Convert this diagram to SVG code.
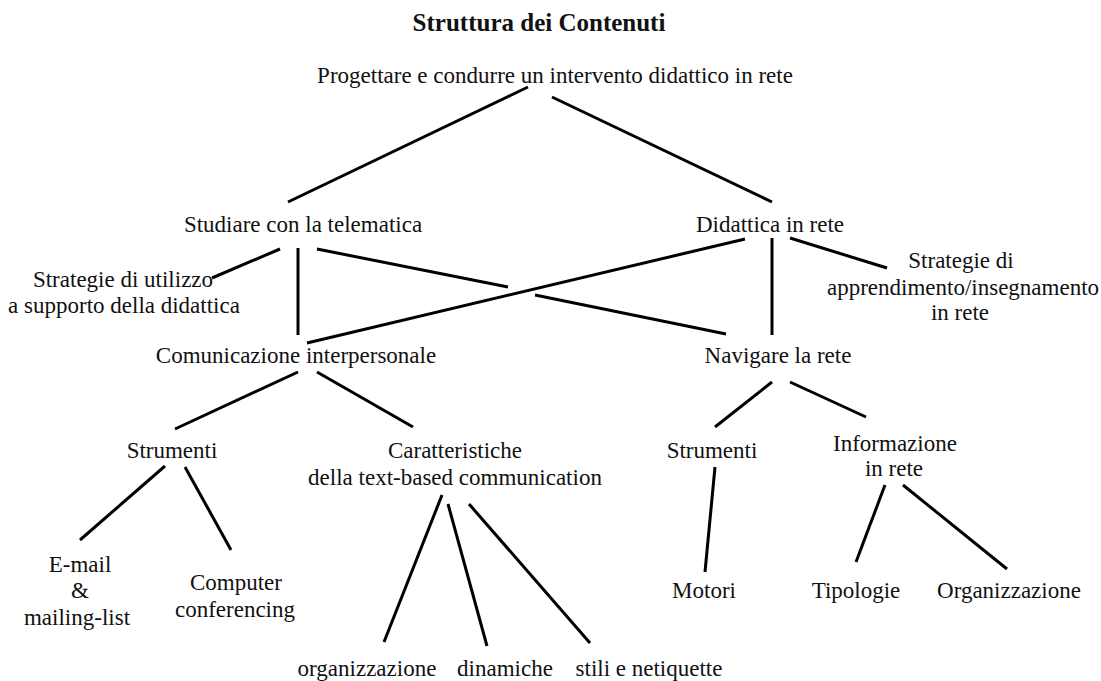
<svg xmlns="http://www.w3.org/2000/svg" width="1101" height="681" viewBox="0 0 1101 681">
<style>
text{font-family:"Liberation Serif","Times New Roman",serif;font-size:23px;fill:#111;text-anchor:middle}
.title{font-weight:bold;font-size:25px}
.c{stroke:#000;stroke-width:3;fill:none;stroke-linecap:butt}
</style>
<rect width="1101" height="681" fill="#fff"/>
<g id="title"><text class="title" x="539" y="31">Struttura dei Contenuti</text></g>
<g id="connectors">
<path class="c" d="M528 87 L288 202"/>
<path class="c" d="M552 97 L772 202"/>
<path class="c" d="M280 249 L212 278"/>
<path class="c" d="M298 248 L298 335"/>
<path class="c" d="M317 249 L508 287 M535 295 L726 334"/>
<path class="c" d="M745 239 L307 343"/>
<path class="c" d="M772 238 L772 335"/>
<path class="c" d="M790 238 L887 268"/>
<path class="c" d="M298 372 L175 429"/>
<path class="c" d="M317 372 L413 427"/>
<path class="c" d="M772 382 L715 427"/>
<path class="c" d="M790 382 L866 417"/>
<path class="c" d="M165 466 L80 540"/>
<path class="c" d="M185 467 L231 550"/>
<path class="c" d="M442 495 L384 642"/>
<path class="c" d="M448 504 L487 646"/>
<path class="c" d="M469 504 L590 643"/>
<path class="c" d="M715 467 L705 572"/>
<path class="c" d="M885 485 L856 562"/>
<path class="c" d="M903 485 L1007 569"/>
</g>
<g id="root"><text x="555" y="83">Progettare e condurre un intervento didattico in rete</text></g>
<g id="studiare"><text x="303" y="232">Studiare con la telematica</text></g>
<g id="didattica"><text x="770" y="232">Didattica in rete</text></g>
<g id="strategie-utilizzo"><text x="123" y="287">Strategie di utilizzo</text><text x="124" y="313">a supporto della didattica</text></g>
<g id="strategie-apprendimento"><text x="961" y="268">Strategie di</text><text x="963" y="295">apprendimento/insegnamento</text><text x="960" y="320">in rete</text></g>
<g id="comunicazione"><text x="296" y="363">Comunicazione interpersonale</text></g>
<g id="navigare"><text x="778" y="363">Navigare la rete</text></g>
<g id="strumenti-com"><text x="172" y="458">Strumenti</text></g>
<g id="caratteristiche"><text x="455" y="458">Caratteristiche</text><text x="455" y="485">della text-based communication</text></g>
<g id="strumenti-nav"><text x="712" y="458">Strumenti</text></g>
<g id="informazione"><text x="895" y="451">Informazione</text><text x="894" y="476">in rete</text></g>
<g id="email"><text x="80" y="572">E-mail</text><text x="80" y="598">&amp;</text><text x="77" y="625">mailing-list</text></g>
<g id="computer"><text x="236" y="590">Computer</text><text x="235" y="617">conferencing</text></g>
<g id="organizzazione-com"><text x="367" y="676">organizzazione</text></g>
<g id="dinamiche"><text x="505" y="676">dinamiche</text></g>
<g id="stili"><text x="649" y="676">stili e netiquette</text></g>
<g id="motori"><text x="704" y="598">Motori</text></g>
<g id="tipologie"><text x="856" y="598">Tipologie</text></g>
<g id="organizzazione-nav"><text x="1009" y="598">Organizzazione</text></g>
</svg>
